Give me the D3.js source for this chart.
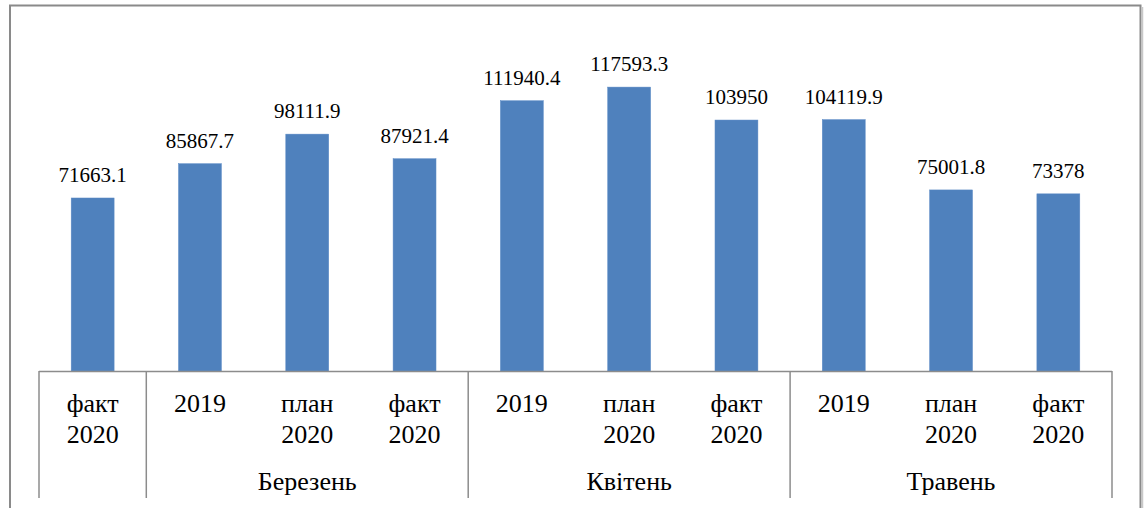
<!DOCTYPE html>
<html>
<head>
<meta charset="utf-8">
<script src="https://cdn.jsdelivr.net/npm/d3@7"></script>
<style>
  body { margin: 0; background: #fff; }
</style>
</head>
<body>
<svg width="1144" height="508"></svg>
<script>
// data
var subLabels = ["факт|2020", "2019", "план|2020", "факт|2020", "2019", "план|2020", "факт|2020", "2019", "план|2020", "факт|2020"];
var values = [71663.1, 85867.7, 98111.9, 87921.4, 111940.4, 117593.3, 103950, 104119.9, 75001.8, 73378];
var valueLabels = ["71663.1", "85867.7", "98111.9", "87921.4", "111940.4", "117593.3", "103950", "104119.9", "75001.8", "73378"];
var groups = ["", "Березень", "Квітень", "Травень"];
var groupSizes = [1, 3, 3, 3];

var svg = d3.select("svg");
var left = 39, right = 1112, baseY = 371;
var lineColor = "#8c8c8c";
var serif = "'Liberation Serif', 'Times New Roman', serif";

// outer frame (no bottom edge, it runs off the picture)
svg.append("path")
  .attr("d", "M10,508 V5.5 H1140.5 V508")
  .attr("fill", "none")
  .attr("stroke", "#8a8a8a")
  .attr("stroke-width", 2);
svg.append("line")
  .attr("x1", 1142.5).attr("x2", 1142.5).attr("y1", 7).attr("y2", 508)
  .attr("stroke", "#c8c8c8").attr("stroke-width", 1.5);

var idx = d3.range(values.length);

var x = d3.scaleBand()
  .domain(idx)
  .range([left, right])
  .paddingInner(0)
  .paddingOuter(0);

var y = d3.scaleLinear()
  .domain([0, 140000])
  .range([baseY, 33]);

var barW = x.bandwidth() * 0.4;

// bars
svg.selectAll("rect.bar")
  .data(idx)
  .enter().append("rect")
  .attr("class", "bar")
  .attr("x", function(i) { return x(i) + (x.bandwidth() - barW) / 2; })
  .attr("y", function(i) { return y(values[i]); })
  .attr("width", barW)
  .attr("height", function(i) { return baseY - y(values[i]); })
  .attr("fill", "#4f81bd")
  .attr("stroke", "#5b8ac5")
  .attr("stroke-width", 0.5);

// value labels
svg.selectAll("text.val")
  .data(idx)
  .enter().append("text")
  .attr("class", "val")
  .attr("x", function(i) { return x(i) + x.bandwidth() / 2; })
  .attr("y", function(i) { return y(values[i]) - 16; })
  .attr("text-anchor", "middle")
  .attr("font-family", serif)
  .attr("font-size", 21)
  .attr("fill", "#000")
  .text(function(i) { return valueLabels[i]; });

// axis baseline
svg.append("line")
  .attr("x1", left).attr("x2", right)
  .attr("y1", baseY + 0.5).attr("y2", baseY + 0.5)
  .attr("stroke", lineColor).attr("stroke-width", 1.5);

// group separators
var bounds = [0];
groupSizes.forEach(function(s, i) { bounds.push(bounds[i] + s); });
bounds.forEach(function(b) {
  var bx = b < values.length ? x(b) : right;
  svg.append("line")
    .attr("x1", bx).attr("x2", bx)
    .attr("y1", baseY).attr("y2", 498)
    .attr("stroke", lineColor).attr("stroke-width", 1.5);
});

// category labels (one or two lines)
var cat = svg.selectAll("text.cat")
  .data(idx)
  .enter().append("text")
  .attr("class", "cat")
  .attr("text-anchor", "middle")
  .attr("font-family", serif)
  .attr("font-size", 26)
  .attr("fill", "#000");
cat.each(function(i) {
  var parts = subLabels[i].split("|");
  var t = d3.select(this);
  parts.forEach(function(p, k) {
    t.append("tspan")
      .attr("x", x(i) + x.bandwidth() / 2)
      .attr("y", 412 + k * 31)
      .text(p);
  });
});

// group labels
groups.forEach(function(g, i) {
  if (!g) return;
  var x0 = x(bounds[i]);
  var x1 = bounds[i + 1] < values.length ? x(bounds[i + 1]) : right;
  svg.append("text")
    .attr("x", (x0 + x1) / 2)
    .attr("y", 490)
    .attr("text-anchor", "middle")
    .attr("font-family", serif)
    .attr("font-size", 26)
    .attr("fill", "#000")
    .text(g);
});
</script>
</body>
</html>
